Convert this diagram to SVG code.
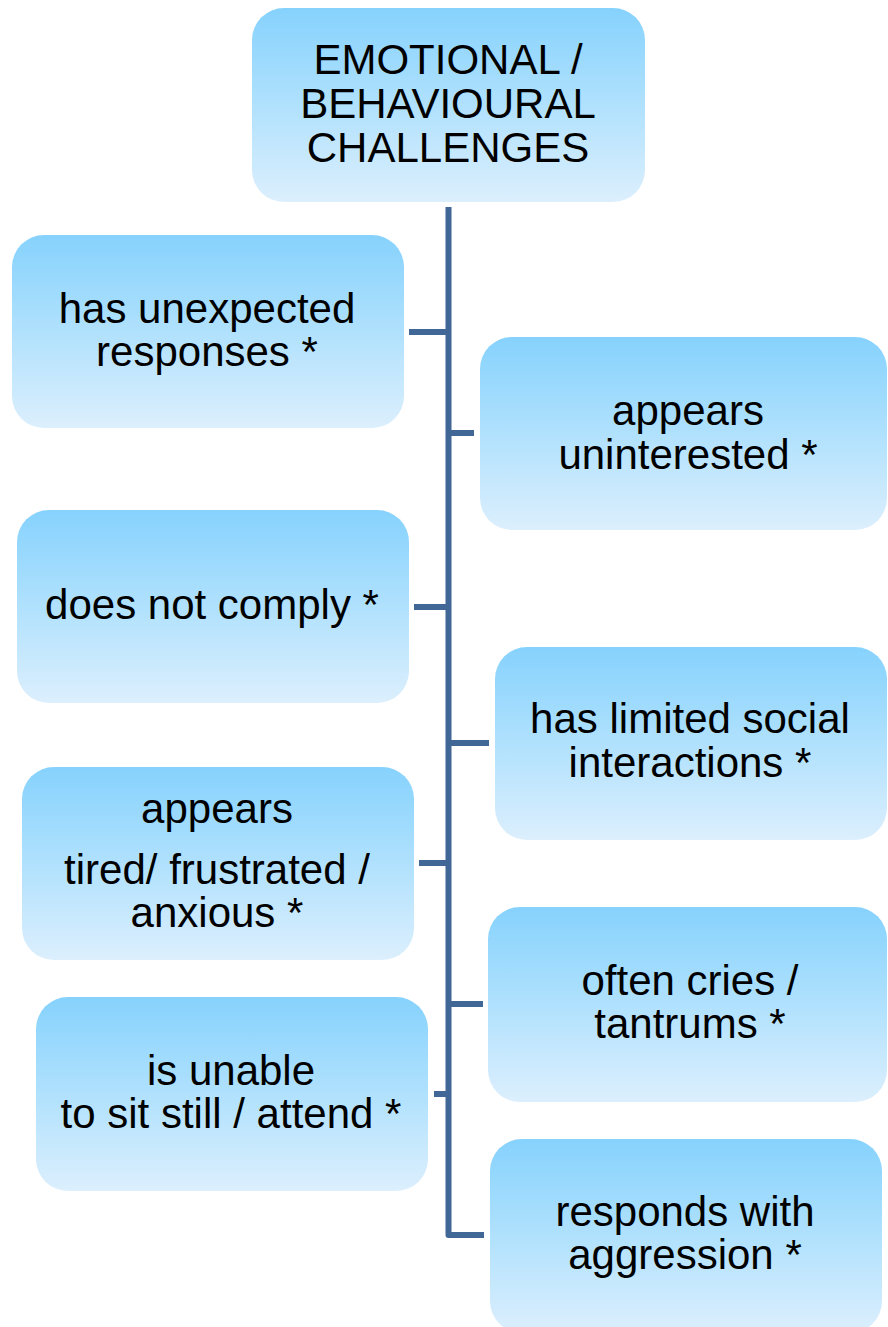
<svg xmlns="http://www.w3.org/2000/svg" width="888" height="1327" viewBox="0 0 888 1327">
  <defs>
    <linearGradient id="boxFill" x1="0" y1="0" x2="0" y2="1">
      <stop offset="0" stop-color="#86D2FD"/>
      <stop offset="0.5" stop-color="#B0E1FD"/>
      <stop offset="1" stop-color="#DCEFFD"/>
    </linearGradient>
  </defs>
  <style>
    .box { fill: url(#boxFill); }
    .lbl { font-family: "Liberation Sans", Arial, sans-serif; font-size: 42px; fill: #000; text-anchor: middle; }
    .link { fill: none; stroke: #406796; stroke-width: 6; stroke-linejoin: round; }
  </style>

  <!-- connectors: spine with stubs to each node -->
  <g id="connectors">
    <path class="link" d="M448.5,207 V1235 H484"/>
    <path class="link" d="M409,332 H448.5"/>
    <path class="link" d="M448.5,433 H474"/>
    <path class="link" d="M414,607 H448.5"/>
    <path class="link" d="M448.5,743 H489"/>
    <path class="link" d="M419,863 H448.5"/>
    <path class="link" d="M448.5,1004 H483"/>
    <path class="link" d="M434,1094 H448.5"/>
  </g>

  <g id="root">
    <rect class="box" x="252" y="8" width="393" height="194" rx="32"/>
    <text class="lbl" x="448" y="74">EMOTIONAL /</text>
    <text class="lbl" x="448" y="118">BEHAVIOURAL</text>
    <text class="lbl" x="448" y="162">CHALLENGES</text>
  </g>

  <g id="unexpected-responses">
    <rect class="box" x="12" y="235" width="392" height="193" rx="32"/>
    <text class="lbl" x="207" y="323">has unexpected</text>
    <text class="lbl" x="207" y="366">responses *</text>
  </g>

  <g id="uninterested">
    <rect class="box" x="480" y="337" width="407" height="193" rx="32"/>
    <text class="lbl" x="688" y="425">appears</text>
    <text class="lbl" x="688" y="469">uninterested *</text>
  </g>

  <g id="not-comply">
    <rect class="box" x="17" y="510" width="392" height="193" rx="32"/>
    <text class="lbl" x="212" y="619">does not comply *</text>
  </g>

  <g id="limited-social">
    <rect class="box" x="495" y="647" width="392" height="193" rx="32"/>
    <text class="lbl" x="690" y="733">has limited social</text>
    <text class="lbl" x="690" y="777">interactions *</text>
  </g>

  <g id="tired-frustrated">
    <rect class="box" x="22" y="767" width="392" height="193" rx="32"/>
    <text class="lbl" x="217" y="823">appears</text>
    <text class="lbl" x="217" y="884">tired/ frustrated /</text>
    <text class="lbl" x="217" y="927">anxious *</text>
  </g>

  <g id="cries-tantrums">
    <rect class="box" x="488" y="907" width="399" height="195" rx="32"/>
    <text class="lbl" x="690" y="995">often cries /</text>
    <text class="lbl" x="690" y="1038">tantrums *</text>
  </g>

  <g id="sit-still">
    <rect class="box" x="36" y="997" width="392" height="194" rx="32"/>
    <text class="lbl" x="231" y="1085">is unable</text>
    <text class="lbl" x="231" y="1128">to sit still / attend *</text>
  </g>

  <g id="aggression">
    <rect class="box" x="490" y="1139" width="392" height="194" rx="32"/>
    <text class="lbl" x="685" y="1226">responds with</text>
    <text class="lbl" x="685" y="1269">aggression *</text>
  </g>
</svg>
